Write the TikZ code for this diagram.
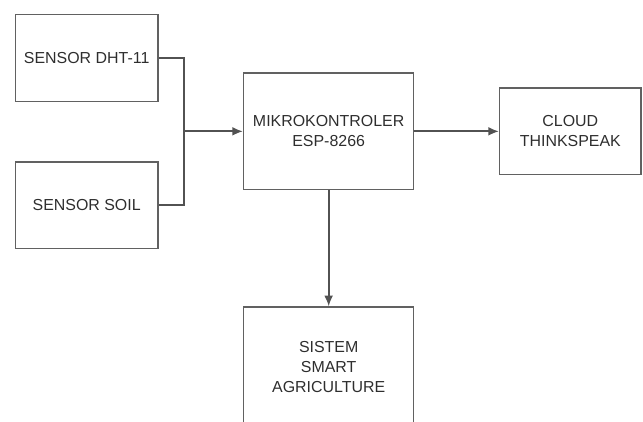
\documentclass[tikz,border=0pt]{standalone}
\usepackage{fontspec}
\setmainfont{Liberation Sans}
\usetikzlibrary{arrows.meta,positioning,calc}

\begin{document}
\begin{tikzpicture}[block/.style={draw=black!62, line width=1.3pt, text=black!82, align=center, minimum width=#1, inner sep=2pt},
  block/.default=4.27cm, conn/.style={color=black!68, line width=1.5pt}, >={Latex[length=9pt,width=7.5pt]},
  node distance=2cm, on grid, every node/.style={font=\fontsize{13.6}{17}\selectfont}]
  \useasboundingbox (0,0) rectangle (19.29,-12.63);

  % Sensors
  \node[block, minimum height=2.62cm] (dht) at (2.6,-1.74) {SENSOR DHT-11};
  \node[block, minimum height=2.59cm] (soil) [below=4.42cm of dht] {SENSOR SOIL};

  % Controller, cloud and output
  \node[block=5.1cm, minimum height=3.49cm] (mcu) [below right=2.2cm and 7.26cm of dht] {MIKROKONTROLER\\ESP-8266};
  \node[block=4.24cm, minimum height=2.59cm] (cloud) [right=7.25cm of mcu] {CLOUD\\THINKSPEAK};
  \node[block=5.1cm, minimum height=3.6cm] (agri) [below=7.07cm of mcu] {SISTEM\\SMART\\AGRICULTURE};

  % Connections
  \coordinate[left=1.77cm of mcu.west] (j);
  \draw[conn] (dht) -| (j) |- (soil);
  \path[conn, ->]
    (j) edge (mcu)
    (mcu) edge (cloud)
    (mcu) edge (agri);
\end{tikzpicture}
\end{document}
